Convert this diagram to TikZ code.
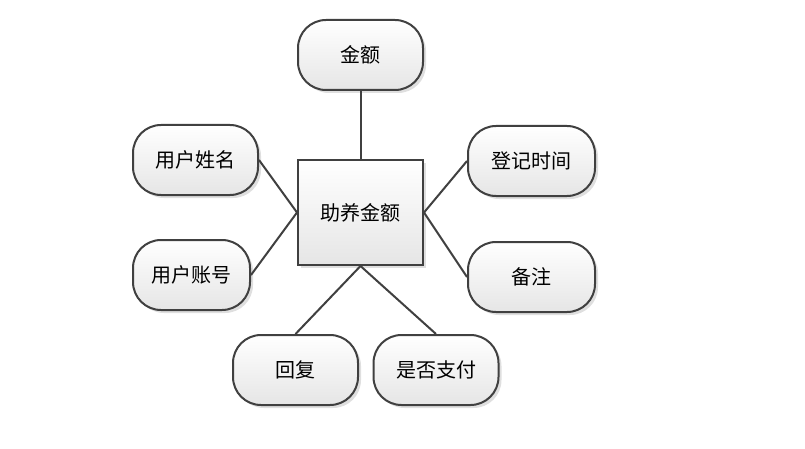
\documentclass[tikz,border=0pt]{standalone}
\usepackage{fontspec}
\newfontfamily\cjk{Noto Sans CJK SC}
\usetikzlibrary{shadows}
\definecolor{edge}{HTML}{404040}
\tikzset{
  attr/.style={draw=edge, line width=2pt, rounded corners=28pt,
    minimum width=125pt, minimum height=70pt, top color=white, bottom color=black!10,
    drop shadow={shadow xshift=3pt, shadow yshift=-3pt, opacity=0.25}, font=\cjk\fontsize{20}{22}\selectfont},
  entity/.style={draw=edge, line width=2pt, minimum width=125pt, minimum height=105pt,
    top color=white, bottom color=black!10,
    drop shadow={shadow xshift=3pt, shadow yshift=-3pt, opacity=0.25}, font=\cjk\fontsize{20}{22}\selectfont},
  link/.style={draw=edge, line width=2pt}
}
\begin{document}
\begin{tikzpicture}[x=1pt, y=-1pt]
  \useasboundingbox (0,0) rectangle (805,449);

  \node[entity] (fund) at (360.5,212.5) {助养金额};

  \node[attr] (amount) at (360.5,55) {金额};
  \node[attr] (uname) at (195.5,160) {用户姓名};
  \node[attr, minimum width=117pt] (uacct) at (191.5,275) {用户账号};
  \node[attr, minimum width=127pt] (regtime) at (531.5,161) {登记时间};
  \node[attr, minimum width=127pt] (remark) at (531.5,277) {备注};
  \node[attr] (reply) at (295.5,370) {回复};
  \node[attr] (paid) at (436,370) {是否支付};

  \draw[link] (amount.south) -- (fund.north);
  \draw[link] (uname.east) -- (fund.west);
  \draw[link] (uacct.east) -- (fund.west);
  \draw[link] (regtime.west) -- (fund.east);
  \draw[link] (remark.west) -- (fund.east);
  \draw[link] (fund.south) -- (reply.north);
  \draw[link] (fund.south) -- (paid.north);
\end{tikzpicture}
\end{document}
